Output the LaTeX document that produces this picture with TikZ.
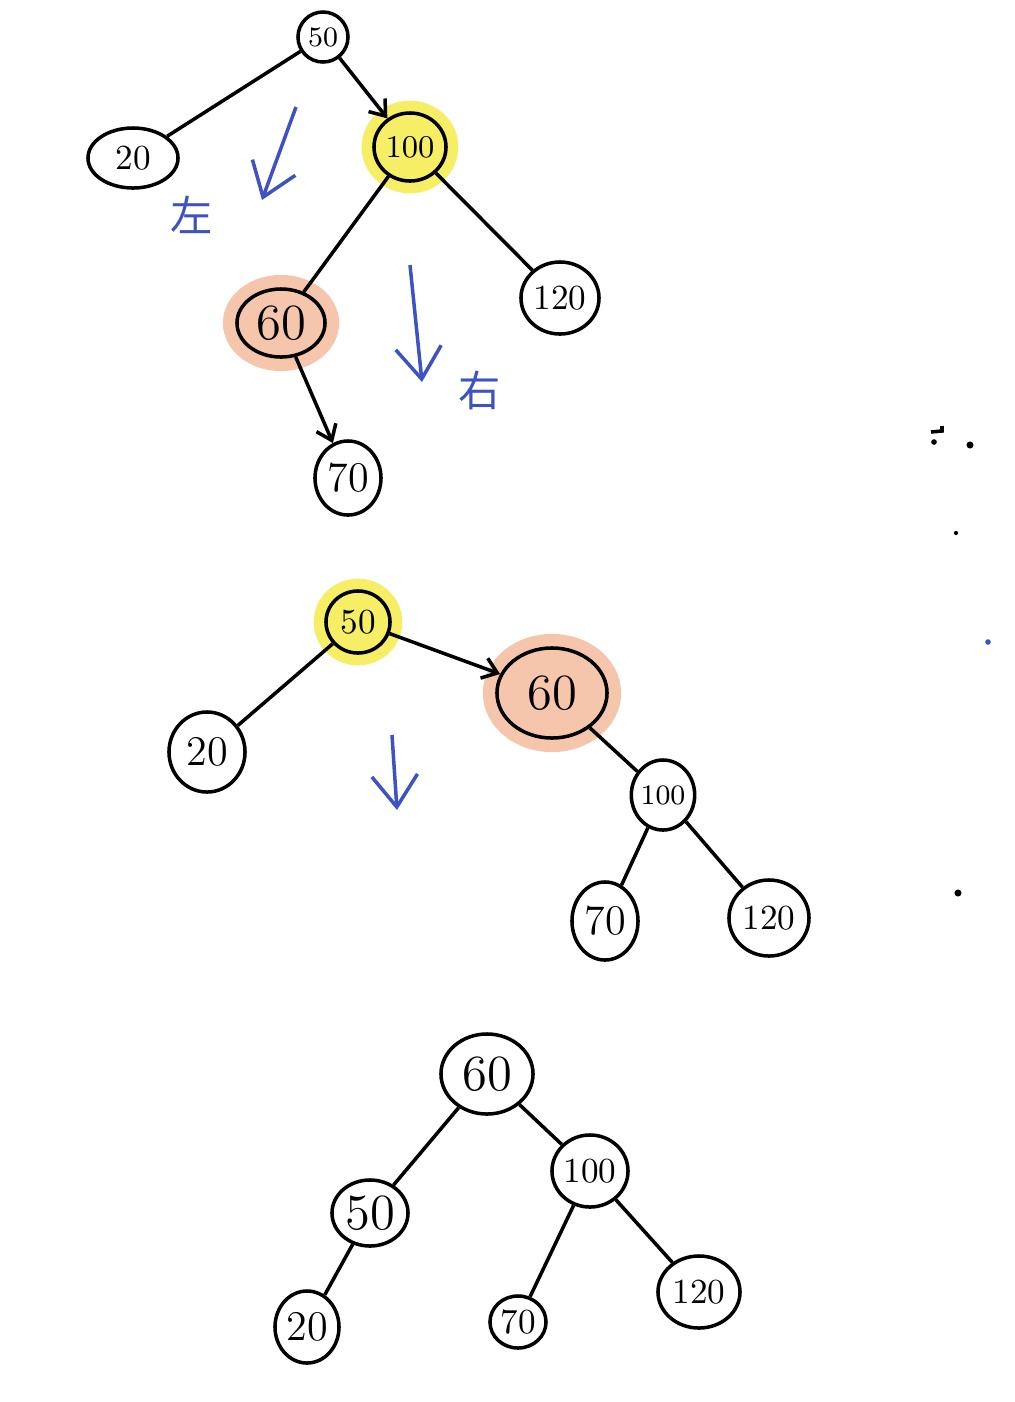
\documentclass[tikz,border=0pt]{standalone}
\usepackage{fontspec}
\newfontfamily\cjk{Noto Sans CJK SC}
\usetikzlibrary{arrows.meta, shapes.geometric}
\definecolor{penblue}{RGB}{62,82,196}
\definecolor{hiyellow}{RGB}{246,238,100}
\definecolor{hiorange}{RGB}{246,198,172}
\tikzset{
  tnode/.style={shape=ellipse, draw, line width=1pt, inner sep=0pt},
  hiy/.style={preaction={draw=hiyellow, line width=7pt}, fill=hiyellow},
  hio/.style={preaction={draw=hiorange, line width=8pt}, fill=hiorange},
  wire/.style={line width=1pt},
  arr/.style={wire, -{Straight Barb[length=4pt, width=6pt]}},
  pen/.style={draw=penblue, line width=1pt, -{Straight Barb[length=9pt, width=13pt]}},
  penlabel/.style={text=penblue, font=\cjk\fontsize{12}{12}\selectfont},
}
\begin{document}
\begin{tikzpicture}[x=0.01cm, y=-0.01cm]
			% Paths, nodes and wires:
			\useasboundingbox (0,0) rectangle (1014,1402);
			% first tree
			\node[tnode, minimum width=0.5cm, minimum height=0.5cm, font=\footnotesize] (A50) at (323,37){50};
			\node[tnode, minimum width=0.9cm, minimum height=0.6cm, font=\normalsize] (A20) at (133,158){20};
			\node[tnode, hiy, minimum width=0.72cm, minimum height=0.68cm, font=\small] (A100) at (410,147){100};
			\node[tnode, hio, minimum width=0.88cm, minimum height=0.68cm, font=\Large] (A60) at (281,323){60};
			\node[tnode, minimum width=0.78cm, minimum height=0.72cm, font=\normalsize] (A120) at (560,298){120};
			\node[tnode, minimum width=0.66cm, minimum height=0.74cm, font=\large] (A70) at (348,478){70};
			\draw[wire] (A20) -- (A50);
			\draw[arr] (A50) -- (A100);
			\draw[wire] (A100) -- (A60);
			\draw[wire] (A100) -- (A120);
			\draw[arr] (A60) -- (A70);
			\coordinate (P1s) at (296,107);
			\coordinate (P1e) at (262,200);
			\coordinate (P2s) at (410,265);
			\coordinate (P2e) at (422,382);
			\draw[pen] (P1s) -- (P1e);
			\draw[pen] (P2s) -- (P2e);
			\node[penlabel] (L1) at (192,215){左};
			\node[penlabel] (L2) at (480,390){右};
			% second tree
			\node[tnode, hiy, minimum width=0.64cm, minimum height=0.62cm, font=\normalsize] (B50) at (358,622){50};
			\node[tnode, minimum width=0.76cm, minimum height=0.8cm, font=\large] (B20) at (207,752){20};
			\node[tnode, hio, minimum width=1.1cm, minimum height=0.9cm, font=\Large] (B60) at (552,693){60};
			\node[tnode, minimum width=0.6cm, minimum height=0.7cm, font=\footnotesize] (B100) at (663,795){100};
			\node[tnode, minimum width=0.66cm, minimum height=0.78cm, font=\large] (B70) at (605,921){70};
			\node[tnode, minimum width=0.8cm, minimum height=0.76cm, font=\normalsize] (B120) at (769,918){120};
			\draw[wire] (B20) -- (B50);
			\draw[arr] (B50) -- (B60);
			\draw[wire] (B60) -- (B100);
			\draw[wire] (B100) -- (B70);
			\draw[wire] (B100) -- (B120);
			\coordinate (P3s) at (392,735);
			\coordinate (P3e) at (397,810);
			\draw[pen] (P3s) -- (P3e);
			% third tree
			\node[tnode, minimum width=0.92cm, minimum height=0.8cm, font=\Large] (C60) at (487,1074){60};
			\node[tnode, minimum width=0.76cm, minimum height=0.66cm, font=\Large] (C50) at (370,1213){50};
			\node[tnode, minimum width=0.76cm, minimum height=0.72cm, font=\normalsize] (C100) at (590,1171){100};
			\node[tnode, minimum width=0.64cm, minimum height=0.72cm, font=\large] (C20) at (307,1327){20};
			\node[tnode, minimum width=0.56cm, minimum height=0.52cm, font=\normalsize] (C70) at (518,1322){70};
			\node[tnode, minimum width=0.82cm, minimum height=0.72cm, font=\normalsize] (C120) at (699,1292){120};
			\draw[wire] (C60) -- (C50);
			\draw[wire] (C60) -- (C100);
			\draw[wire] (C50) -- (C20);
			\draw[wire] (C100) -- (C70);
			\draw[wire] (C100) -- (C120);
			% specks on the right
			\draw[line width=1pt] (931,432) -- (942,431) -- (942,426);
			\fill (934,442) circle (0.8pt);
			\fill (970,445) circle (1pt);
			\fill (956,533) circle (0.6pt);
			\fill[penblue] (988,642) circle (0.8pt);
			\fill (958,893) circle (1pt);
		\end{tikzpicture}
\end{document}
